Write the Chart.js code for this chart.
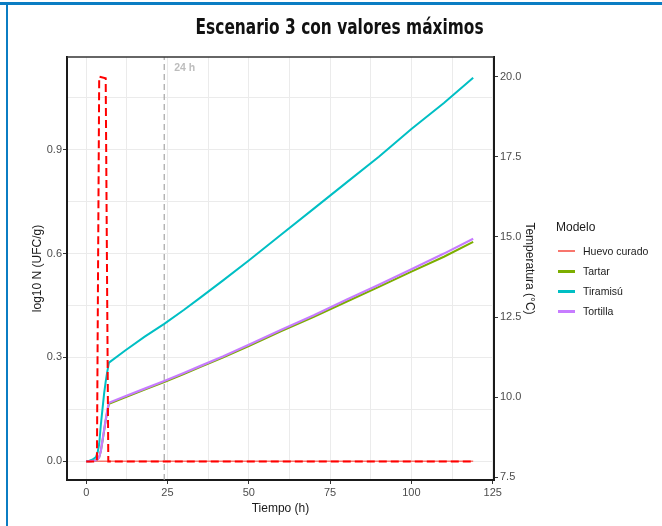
<!DOCTYPE html>
<html>
<head>
<meta charset="utf-8">
<script src="https://cdn.jsdelivr.net/npm/chart.js@4.4.1/dist/chart.umd.min.js"></script>
<style>
	body { margin: 0; background: #fff; }
	#marco { position: relative; width: 662px; height: 526px; overflow: hidden; }
	#bordeSup { position: absolute; left: 0; top: 2px; width: 662px; height: 3px; background: #0b7dc3; }
	#bordeIzq { position: absolute; left: 6px; top: 2px; width: 2px; height: 524px; background: #0b7dc3; }
	#titulo {
		position: absolute; left: 0; width: 680px; top: 15px; text-align: center;
		font-family: "Liberation Sans Narrow", "DejaVu Sans Condensed", sans-serif;
		font-weight: bold; font-size: 21px; color: #111;
	}
	#titulo span { display: inline-block; transform-origin: center; }
	#leyenda { position: absolute; left: 556px; top: 219px; font-family: "Liberation Sans", Arial, sans-serif; }
	#leyenda .tit { font-size: 12px; color: #1a1a1a; height: 22px; line-height: 16px; }
	#leyenda .item { font-size: 10.5px; color: #1a1a1a; height: 20px; line-height: 20px; position: relative; padding-left: 27px; }
	#leyenda .linea { position: absolute; left: 2px; top: 9px; width: 17px; }
	canvas { position: absolute; left: 0; top: 0; }
</style>
</head>
<body>
<div id="marco">
	<canvas id="grafico" width="662" height="526"></canvas>
	<div id="bordeSup"></div>
	<div id="bordeIzq"></div>
	<div id="titulo"><span>Escenario 3 con valores máximos</span></div>
	<div id="leyenda"></div>
</div>
<script>
// Datos (tiempo en h, log10 N en UFC/g, temperatura en °C)
const modelos = ["Huevo curado", "Tartar", "Tiramisú", "Tortilla"];
const colores = ["#F8766D", "#7CAE00", "#00BFC4", "#C77CFF"];

const tiempo = [0, 1, 2, 3, 3.5, 4, 4.5, 5, 5.5, 6, 6.5, 7, 12, 18, 24, 30, 35, 42, 50, 60, 70, 80, 90, 100, 110, 119];
const tartarN = [0, 0, 0.001, 0.003, 0.006, 0.012, 0.03, 0.058, 0.088, 0.118, 0.145, 0.166, 0.185, 0.207, 0.229, 0.252, 0.272, 0.3, 0.333, 0.376, 0.417, 0.461, 0.504, 0.548, 0.591, 0.634];
const tiramisuN = [0, 0.002, 0.005, 0.012, 0.025, 0.05, 0.105, 0.15, 0.195, 0.23, 0.26, 0.285, 0.32, 0.36, 0.397, 0.437, 0.472, 0.522, 0.58, 0.655, 0.73, 0.805, 0.88, 0.96, 1.035, 1.108];
const tortillaN = [0, 0, 0.001, 0.003, 0.006, 0.012, 0.03, 0.06, 0.09, 0.12, 0.148, 0.169, 0.188, 0.21, 0.232, 0.255, 0.275, 0.303, 0.337, 0.38, 0.422, 0.467, 0.51, 0.555, 0.6, 0.643];

const huevoTiempo = [0, 119];
const huevoN = [0, 0];

const tempTiempo = [0, 3.3, 4.0, 6.0, 6.8, 119];
const tempC = [8, 8, 20, 19.95, 8, 8];

const marcaTiempo = 24;

const xTicks = [0, 12.5, 25, 37.5, 50, 62.5, 75, 87.5, 100, 112.5, 125];
const xEtiquetas = { 0: "0", 25: "25", 50: "50", 75: "75", 100: "100", 125: "125" };
const yTicks = [0, 0.15, 0.3, 0.45, 0.6, 0.75, 0.9, 1.05];
const yEtiquetas = { 0: "0.0", 0.3: "0.3", 0.6: "0.6", 0.9: "0.9" };
const y2Ticks = [7.5, 10, 12.5, 15, 17.5, 20];
const y2Etiquetas = ["7.5", "10.0", "12.5", "15.0", "17.5", "20.0"];

const Y_MIN = -0.054, Y_MAX = 1.168;
const T_MIN = 7.42, T_MAX = 20.61;

const puntos = (xs, ys) => xs.map((x, i) => ({ x: x, y: ys[i] }));

const fuenteTick = { family: "'Liberation Sans', Arial, sans-serif", size: 11 };
const fuenteTitulo = { family: "'Liberation Sans', Arial, sans-serif", size: 12 };
const colorTick = "#4d4d4d";

const clave = (v) => String(Math.round(v * 1000) / 1000);
const esMayor = (obj, v) => obj[clave(v)] !== undefined;

// Titulo estrecho: se ajusta al ancho del original
const spanTitulo = document.querySelector("#titulo span");
spanTitulo.style.transform = `scaleX(${288 / spanTitulo.getBoundingClientRect().width})`;

// Borde superior del panel y texto de la marca de 24 h
const panelPlugin = {
	id: "panel",
	afterDraw(chart) {
		const { ctx, chartArea, scales } = chart;
		ctx.save();
		ctx.strokeStyle = "#333";
		ctx.lineWidth = 1.5;
		ctx.beginPath();
		ctx.moveTo(chartArea.left, chartArea.top);
		ctx.lineTo(chartArea.right, chartArea.top);
		ctx.stroke();
		ctx.fillStyle = "#bdbdbd";
		ctx.font = "bold 10.5px 'Liberation Sans', Arial, sans-serif";
		ctx.textBaseline = "middle";
		ctx.fillText("24 h", scales.x.getPixelForValue(marcaTiempo) + 10, chartArea.top + 11);
		ctx.restore();
	},
};

const ctx = document.getElementById("grafico").getContext("2d");
new Chart(ctx, {
	type: "line",
	data: {
		datasets: [
			{
				label: "Temperatura",
				data: puntos(tempTiempo, tempC),
				yAxisID: "y2",
				borderColor: "#ff0000",
				borderWidth: 2,
				borderDash: [8, 4],
				order: 0,
			},
			{
				label: modelos[3],
				data: puntos(tiempo, tortillaN),
				borderColor: colores[3],
				borderWidth: 2.2,
				order: 1,
			},
			{
				label: modelos[2],
				data: puntos(tiempo, tiramisuN),
				borderColor: colores[2],
				borderWidth: 2,
				order: 2,
			},
			{
				label: modelos[1],
				data: puntos(tiempo, tartarN),
				borderColor: colores[1],
				borderWidth: 2,
				order: 3,
			},
			{
				label: modelos[0],
				data: puntos(huevoTiempo, huevoN),
				borderColor: colores[0],
				borderWidth: 1.5,
				order: 4,
			},
			{
				label: "24 h",
				data: puntos([marcaTiempo, marcaTiempo], [Y_MIN, Y_MAX]),
				borderColor: "#a6a6a6",
				borderWidth: 1.2,
				borderDash: [6, 4],
				order: 5,
			},
		],
	},
	options: {
		responsive: false,
		animation: false,
		events: [],
		elements: { point: { radius: 0 }, line: { tension: 0, fill: false } },
		layout: { padding: { left: 0, top: 57, right: 118, bottom: 0 } },
		plugins: {
			legend: { display: false },
			tooltip: { enabled: false },
		},
		scales: {
			x: {
				type: "linear",
				min: -5.9,
				max: 125.4,
				afterBuildTicks: (s) => { s.ticks = xTicks.map((v) => ({ value: v })); },
				afterFit: (s) => { s.height = 46; },
				ticks: {
					autoSkip: false,
					maxRotation: 0,
					padding: 2,
					font: fuenteTick,
					color: colorTick,
					callback: (v) => (esMayor(xEtiquetas, v) ? xEtiquetas[clave(v)] : ""),
				},
				grid: {
					color: "#ebebeb",
					lineWidth: 1,
					tickLength: 4,
					tickColor: (c) => (c.tick && esMayor(xEtiquetas, c.tick.value) ? "#333" : "rgba(0,0,0,0)"),
				},
				border: { color: "#1a1a1a", width: 2 },
				title: { display: true, text: "Tiempo (h)", font: fuenteTitulo, color: "#1a1a1a", padding: { top: 0, bottom: 10 } },
			},
			y: {
				type: "linear",
				position: "left",
				min: Y_MIN,
				max: Y_MAX,
				afterBuildTicks: (s) => { s.ticks = yTicks.map((v) => ({ value: v })); },
				afterFit: (s) => { s.width = 67; },
				ticks: {
					autoSkip: false,
					padding: 1,
					font: fuenteTick,
					color: colorTick,
					callback: (v) => (esMayor(yEtiquetas, v) ? yEtiquetas[clave(v)] : ""),
				},
				grid: {
					color: "#ebebeb",
					lineWidth: 1,
					tickLength: 4,
					tickColor: (c) => (c.tick && esMayor(yEtiquetas, c.tick.value) ? "#333" : "rgba(0,0,0,0)"),
				},
				border: { color: "#1a1a1a", width: 2 },
				title: { display: true, text: "log10 N (UFC/g)", font: fuenteTitulo, color: "#1a1a1a", padding: { top: 30, bottom: 0 } },
			},
			y2: {
				type: "linear",
				position: "right",
				min: T_MIN,
				max: T_MAX,
				afterBuildTicks: (s) => { s.ticks = y2Ticks.map((v) => ({ value: v })); },
				afterFit: (s) => { s.width = 50; },
				ticks: {
					autoSkip: false,
					padding: 2,
					font: fuenteTick,
					color: colorTick,
					callback: (v, i) => y2Etiquetas[i],
				},
				grid: { drawOnChartArea: false, tickLength: 4, tickColor: "#333" },
				border: { color: "#1a1a1a", width: 2 },
				title: { display: true, text: "Temperatura (°C)", font: fuenteTitulo, color: "#1a1a1a", padding: { top: 7, bottom: 0 } },
			},
		},
	},
	plugins: [panelPlugin],
});

// Leyenda en HTML
const leyenda = document.getElementById("leyenda");
const tit = document.createElement("div");
tit.className = "tit";
tit.textContent = "Modelo";
leyenda.appendChild(tit);
modelos.forEach((m, i) => {
	const item = document.createElement("div");
	item.className = "item";
	const linea = document.createElement("span");
	linea.className = "linea";
	linea.style.background = colores[i];
	linea.style.height = i === 0 ? "1.5px" : "3px";
	item.appendChild(linea);
	item.appendChild(document.createTextNode(m));
	leyenda.appendChild(item);
});
</script>
</body>
</html>
